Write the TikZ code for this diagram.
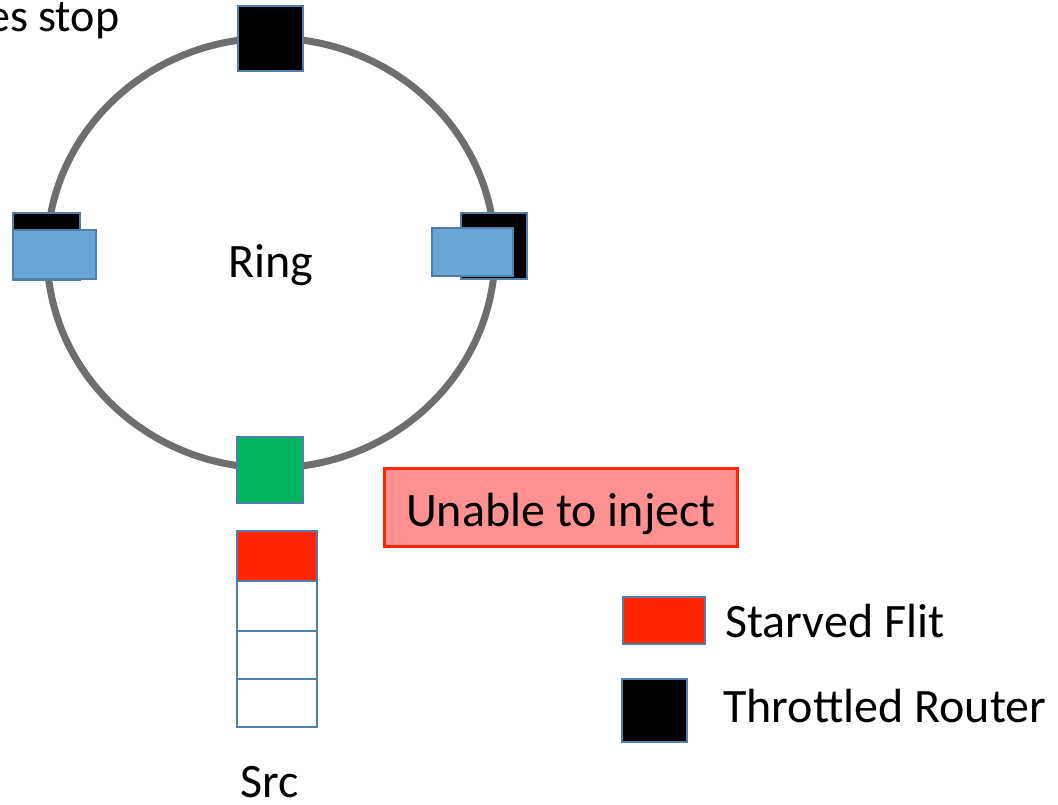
\documentclass[tikz,border=0pt]{standalone}
\usepackage{fontspec}
\setmainfont{Carlito}
\definecolor{ringgray}{RGB}{110,110,110}
\definecolor{edgeblue}{RGB}{80,128,170}
\definecolor{flitblue}{RGB}{104,166,216}
\definecolor{routergreen}{RGB}{0,181,96}
\definecolor{starvedred}{RGB}{255,38,0}
\definecolor{warnfill}{RGB}{255,145,145}
\tikzset{
  lbl/.style={font=\fontsize{48}{57}\selectfont, inner sep=0pt, text=black},
  cell/.style={draw=edgeblue, line width=2pt},
  router/.style={cell, fill=black},
  flit/.style={cell, fill=flitblue},
}
\begin{document}
\begin{tikzpicture}[x=1pt,y=-1pt]
  \useasboundingbox (0,0) rectangle (1058,805);
  \clip (0,0) rectangle (1058,805);

  % the ring
  \draw[ringgray, line width=7pt] (271,253) ellipse [x radius=224, y radius=215];
  \node[lbl, anchor=base] (ring) at (271,277) {Ring};

  % stops on the ring
  \draw[router] (238,6) rectangle (303,71);

  \draw[router] (13,213) rectangle (80,280);
  \draw[flit] (13,230) rectangle (96,279);

  \draw[router] (461,213) rectangle (527,279);
  \draw[flit] (432,228) rectangle (513,276);

  \draw[cell, fill=routergreen] (237,437) rectangle (303,503);

  % injection queue at the source
  \draw[cell, fill=starvedred] (237,531) rectangle (317,581);
  \draw[cell] (237,581) rectangle (317,631);
  \draw[cell] (237,631) rectangle (317,679);
  \draw[cell] (237,679) rectangle (317,727);
  \node[lbl, anchor=base] (src) at (270,797) {Src};

  % annotations
  \node[lbl, font=\fontsize{46}{55}\selectfont, anchor=base west] (stop) at (-13,32) {es stop};
  \node[draw=starvedred, fill=warnfill, line width=3.5pt, minimum width=353pt,
        minimum height=78pt, inner sep=0pt] (unable) at (561,507.5) {};
  \node[lbl, anchor=base] (unabletext) at (561,526) {Unable to inject};

  % legend
  \draw[cell, fill=starvedred] (623,597) rectangle (705,644);
  \node[lbl, anchor=base west] (starved) at (725,637) {Starved Flit};
  \draw[router] (622,679) rectangle (687,742);
  \node[lbl, anchor=base west] (throttled) at (723,722) {Throttled Router};
\end{tikzpicture}
\end{document}
